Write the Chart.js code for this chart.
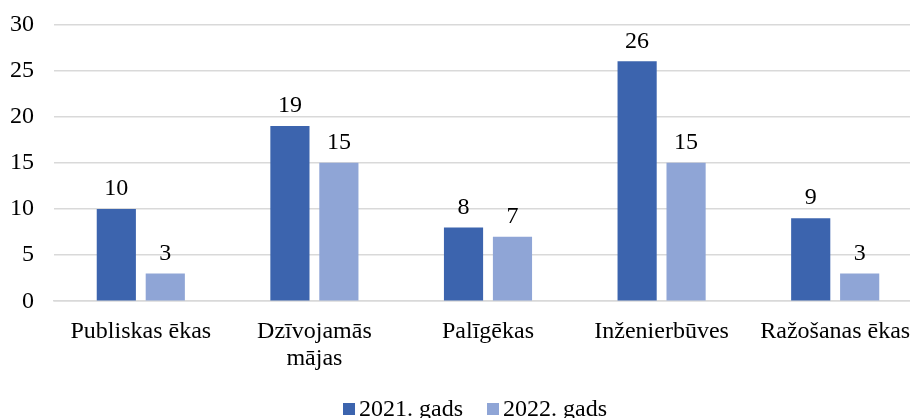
<!DOCTYPE html>
<html>
<head>
<meta charset="utf-8">
<script src="https://cdn.jsdelivr.net/npm/chart.js@4/dist/chart.umd.min.js"></script>
<style>
  html, body { margin: 0; padding: 0; background: #fff; overflow: hidden; }
  #wrap { width: 922px; height: 441px; margin-top: -10px; }
</style>
</head>
<body>
<div id="wrap"><canvas id="chart"></canvas></div>
<script>
const categories = ['Publiskas ēkas', ['Dzīvojamās', 'mājas'], 'Palīgēkas', 'Inženierbūves', 'Ražošanas ēkas'];
const values2021 = [10, 19, 8, 26, 9];
const values2022 = [3, 15, 7, 15, 3];
const seriesNames = ['2021. gads', '2022. gads'];

const FONT = "'Liberation Serif', 'Times New Roman', serif";

// draws the value above each bar
const valueLabels = {
  id: 'valueLabels',
  afterDatasetsDraw(chart) {
    const ctx = chart.ctx;
    ctx.save();
    ctx.font = '24px ' + FONT;
    ctx.fillStyle = '#000';
    ctx.textAlign = 'center';
    ctx.textBaseline = 'bottom';
    chart.data.datasets.forEach((ds, i) => {
      chart.getDatasetMeta(i).data.forEach((bar, j) => {
        ctx.fillText(ds.data[j], bar.x, bar.y - 8);
      });
    });
    ctx.restore();
  }
};

// legend drawn by hand: small square, tight gap, then the series name
const bottomLegend = {
  id: 'bottomLegend',
  afterDraw(chart) {
    const ctx = chart.ctx;
    ctx.save();
    ctx.font = '24px ' + FONT;
    ctx.textBaseline = 'alphabetic';
    const box = 12, gapText = 4, gapItem = 24;
    const items = chart.data.datasets.map(ds => ({ text: ds.label, color: ds.backgroundColor, w: ctx.measureText(ds.label).width }));
    const total = items.reduce((s, it) => s + box + gapText + it.w, 0) + gapItem * (items.length - 1);
    let x = chart.width / 2 + 14 - total / 2;
    const base = chart.height - 15;
    items.forEach(it => {
      ctx.fillStyle = it.color;
      ctx.fillRect(x, base - 13, box, box);
      x += box + gapText;
      ctx.fillStyle = '#000';
      ctx.fillText(it.text, x, base);
      x += it.w + gapItem;
    });
    ctx.restore();
  }
};

new Chart(document.getElementById('chart'), {
  type: 'bar',
  data: {
    labels: categories,
    datasets: [
      { label: seriesNames[0], data: values2021, backgroundColor: '#3C64AE' },
      { label: seriesNames[1], data: values2022, backgroundColor: '#8FA5D6' }
    ]
  },
  options: {
    responsive: true,
    maintainAspectRatio: false,
    animation: false,
    layout: { padding: { top: 3, left: -10, right: 0, bottom: 50 } },
    datasets: { bar: { categoryPercentage: 0.564, barPercentage: 0.8 } },
    scales: {
      x: {
        grid: { display: false },
        border: { color: '#d9d9d9', width: 1.5 },
        ticks: { color: '#000', font: { family: FONT, size: 24, lineHeight: 1.12 }, maxRotation: 0, autoSkip: false, padding: 9 }
      },
      y: {
        min: 0, max: 30,
        ticks: { stepSize: 5, color: '#000', font: { family: FONT, size: 24 }, padding: 20 },
        grid: { color: '#d9d9d9', lineWidth: 1.5, drawTicks: false },
        border: { display: false }
      }
    },
    plugins: {
      legend: { display: false },
      tooltip: { enabled: false }
    }
  },
  plugins: [valueLabels, bottomLegend]
});
</script>
</body>
</html>
